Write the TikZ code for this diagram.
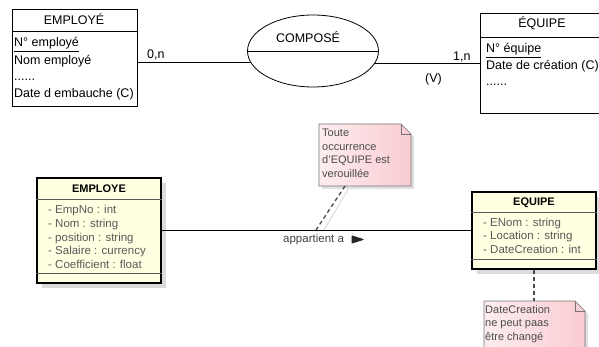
\documentclass[tikz,border=0pt]{standalone}
\usepackage{fontspec}
\setmainfont{Liberation Sans}
\usetikzlibrary{shapes.geometric, shadows}
\definecolor{umlyellow}{RGB}{255,255,225}
\definecolor{notepink}{RGB}{249,204,210}
\tikzset{>=stealth}
\tikzset{
	txt/.style = {inner sep = 0pt, anchor = base west, font = \fontsize{12.5}{14}\selectfont},
	entity/.style = {draw, line width = 0.8pt, inner sep = 0pt},
	umlclass/.style = {draw, line width = 1.6pt, fill = umlyellow, inner sep = 0pt, drop shadow = {shadow xshift = 5pt, shadow yshift = -5pt, fill = black!14, opacity = 1}},
	umlsep/.style = {draw = black!65, line width = 0.8pt},
	umltxt/.style = {inner sep = 0pt, anchor = base west, text = black!65, font = \fontsize{11.5}{13.5}\selectfont},
	umltitle/.style = {inner sep = 0pt, anchor = base, font = \fontsize{11}{13.5}\selectfont\bfseries},
	notetxt/.style = {inner sep = 0pt, anchor = north west, align = left, text = black!70, font = \fontsize{11}{13.5}\selectfont},
	notebox/.style = {draw = black!55, line width = 0.6pt, left color = notepink!35, right color = notepink},
	noteshadow/.style = {fill = black!12},
	link/.style = {dash pattern = on 4pt off 3pt, line width = 1.3pt, draw = black!70}
}

\begin{document}
\begin{tikzpicture}[x = 1pt, y = -1pt]
	\useasboundingbox (0,0) rectangle (599,347);
	\clip (0,0) rectangle (599,347);

	\node[entity, minimum width = 125pt, minimum height = 97pt] (employe) at (74.5,57.5) {};
	\draw[line width = 0.8pt] (employe.west |- 0,31) -- (employe.east |- 0,31);
	\node[txt, anchor = base] (employetitle) at (74,25) {EMPLOYÉ};
	\node[txt] (noemp) at (14,47) {\underline{N° employé}};
	\node[txt] (nomemp) at (14,65) {Nom employé};
	\node[txt] (dotsemp) at (14,81) {......};
	\node[txt] (dateemb) at (14,98) {Date d embauche (C)};

	\node[draw, ellipse, line width = 0.8pt, minimum width = 131pt, minimum height = 72pt, inner sep = 0pt] (compose) at (313,51) {};
	\draw[line width = 0.8pt] (compose.west) -- (compose.east);
	\node[txt, anchor = base] (composetitle) at (308,43) {COMPOSÉ};

	\node[entity, minimum width = 140pt, minimum height = 100pt] (equipe) at (550,63) {};
	\draw[line width = 0.8pt] (equipe.west |- 0,37) -- (equipe.east |- 0,37);
	\node[txt, anchor = base] (equipetitle) at (542,28) {ÉQUIPE};
	\node[txt] (noeq) at (486,53) {\underline{N° équipe}};
	\node[txt] (datecre) at (486,70) {Date de création (C)};
	\node[txt] (dotseq) at (486,86) {......};

	\draw[line width = 0.8pt] (employe.east |- compose.190) -- (compose.190);
	\draw[line width = 0.8pt] (compose.349) -- (equipe.west |- compose.349);
	\node[txt] (card1) at (147,59) {0,n};
	\node[txt] (card2) at (453,61) {1,n};
	\node[txt] (verrou) at (425,83) {(V)};

	\node[umlclass, minimum width = 124pt, minimum height = 105pt] (employeC) at (99,230.5) {};
	\draw[umlsep] (employeC.west |- 0,199) -- (employeC.east |- 0,199);
	\draw[umlsep] (employeC.west |- 0,273) -- (employeC.east |- 0,273);
	\node[umltitle] (employeCtitle) at (99,193) {EMPLOYE};
	\node[umltxt] (empno) at (48,214) {- EmpNo : int};
	\node[umltxt] (nom) at (48,227.5) {- Nom : string};
	\node[umltxt] (position) at (48,241) {- position : string};
	\node[umltxt] (salaire) at (48,254.5) {- Salaire : currency};
	\node[umltxt] (coeff) at (48,268) {- Coefficient : float};

	\node[umlclass, minimum width = 124pt, minimum height = 77pt] (equipeC) at (534,230.5) {};
	\draw[umlsep] (equipeC.west |- 0,212) -- (equipeC.east |- 0,212);
	\draw[umlsep] (equipeC.west |- 0,259) -- (equipeC.east |- 0,259);
	\node[umltitle] (equipeCtitle) at (534,206) {EQUIPE};
	\node[umltxt] (enom) at (483,226) {- ENom : string};
	\node[umltxt] (location) at (483,239.5) {- Location : string};
	\node[umltxt] (datecreation) at (483,253) {- DateCreation : int};

	\draw[line width = 0.8pt] (employeC) -- (equipeC);
	\node[umltxt, text = black!75] (assoc) at (283,243) {appartient a};
	\filldraw[black!85, line width = 1pt, line join = round] (352,236) -- (363,239.5) -- (352,243) -- cycle;

	\fill[noteshadow] (322,127) -- (404,127) -- (414,137) -- (414,189) -- (322,189) -- cycle;
	\draw[notebox] (319,124) -- (401,124) -- (411,134) -- (411,186) -- (319,186) -- cycle;
	\draw[draw = black!55, line width = 0.6pt] (401,124) -- (401,134) -- (411,134);
	\node[notetxt] (note1) at (322,129) {Toute\\occurrence\\d'EQUIPE est\\verouillée};
	\coordinate (note1foot) at (345,186);
	\coordinate (assocfoot) at (316,230);
	\draw[black!12, line width = 1.2pt] ([xshift = 5pt]note1foot) -- ([xshift = 8pt]assocfoot);
	\draw[link] (note1foot) -- (assocfoot);

	\fill[noteshadow] (487,304) -- (578,304) -- (588,314) -- (588,360) -- (487,360) -- cycle;
	\draw[notebox] (484,301) -- (575,301) -- (585,311) -- (585,360) -- (484,360) -- cycle;
	\draw[draw = black!55, line width = 0.6pt] (575,301) -- (575,311) -- (585,311);
	\node[notetxt] (note2) at (485,305) {DateCreation\\ne peut paas\\être changé};
	\coordinate (note2top) at (534,301);
	\draw[link] (equipeC.south) -- (note2top);
\end{tikzpicture}
\end{document}
